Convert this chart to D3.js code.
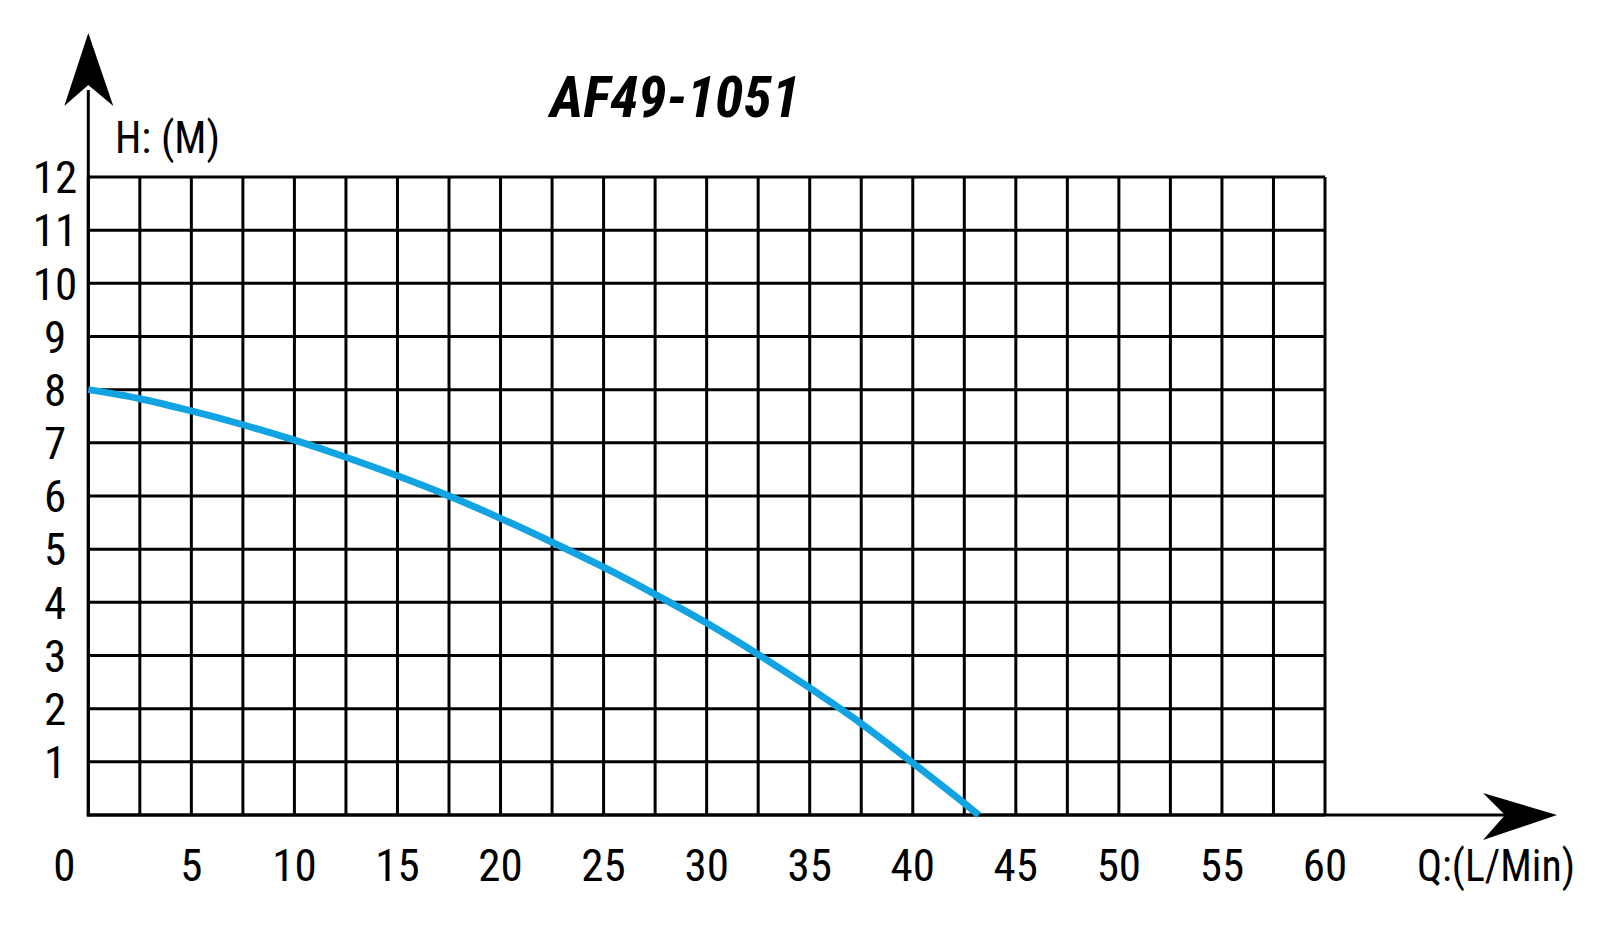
<!DOCTYPE html>
<html>
<head>
<meta charset="utf-8">
<script src="https://cdn.jsdelivr.net/npm/d3@7"></script>
<style>
  html, body { margin: 0; padding: 0; background: #fff; }
  svg { display: block; }
  text { font-family: "Liberation Sans Narrow", "Roboto Condensed", "Arial Narrow", "Liberation Sans", sans-serif; fill: #000; }
</style>
</head>
<body>
<svg id="chart" width="1600" height="929"></svg>
<script>
// ---- data ----
const title = "AF49-1051";
const yAxisLabel = "H: (M)";
const xAxisLabel = "Q:(L/Min)";
const flowQ = [0, 2.5, 5, 7.5, 10, 12.5, 15, 17.5, 20, 22.5, 25, 27.5, 30, 32.5, 35, 37.5, 40, 42.5, 43.2];
const headH = [8, 7.83, 7.60, 7.34, 7.05, 6.73, 6.38, 6.00, 5.58, 5.13, 4.66, 4.15, 3.61, 3.02, 2.39, 1.72, 0.98, 0.22, 0];
const xTicks = [0, 5, 10, 15, 20, 25, 30, 35, 40, 45, 50, 55, 60];
const yTicks = [1, 2, 3, 4, 5, 6, 7, 8, 9, 10, 11, 12];
const xGrid = d3.range(0, 60.01, 2.5);
const yGrid = d3.range(0, 12.01, 1);

// ---- layout ----
const svg = d3.select("#chart");
const x = d3.scaleLinear().domain([0, 60]).range([88.3, 1325]);
const y = d3.scaleLinear().domain([0, 12]).range([815, 177]);
const gridW = 3;

// grid
const g = svg.append("g");
g.selectAll("line.v").data(xGrid).join("line")
  .attr("x1", d => x(d)).attr("x2", d => x(d))
  .attr("y1", y(0)).attr("y2", y(12))
  .attr("stroke", "#000").attr("stroke-width", gridW);
g.selectAll("line.h").data(yGrid).join("line")
  .attr("x1", x(0)).attr("x2", x(60))
  .attr("y1", d => y(d)).attr("y2", d => y(d))
  .attr("stroke", "#000").attr("stroke-width", gridW);

// axes lines with arrows
svg.append("line").attr("x1", x(0)).attr("x2", x(0)).attr("y1", y(0) + 1.5).attr("y2", 90)
  .attr("stroke", "#000").attr("stroke-width", gridW);
svg.append("line").attr("x1", x(0) - 1.5).attr("x2", 1510).attr("y1", y(0)).attr("y2", y(0))
  .attr("stroke", "#000").attr("stroke-width", gridW);
const ax = x(0);
svg.append("path")
  .attr("d", `M${ax},33 L${ax + 25},106 L${ax},85 L${ax - 24},106 Z`)
  .attr("fill", "#000");
const ay = y(0);
svg.append("path")
  .attr("d", `M1557,${ay} L1483,${ay + 25} L1505,${ay} L1483,${ay - 22} Z`)
  .attr("fill", "#000");

// curve
const pts = flowQ.map((q, i) => [q, headH[i]]);
const line = d3.line().x(d => x(d[0])).y(d => y(d[1])).curve(d3.curveMonotoneX);
svg.append("path").datum(pts)
  .attr("d", line)
  .attr("fill", "none")
  .attr("stroke", "#12a4e2")
  .attr("stroke-width", 7);

// y tick labels
svg.selectAll("text.yt").data(yTicks).join("text")
  .attr("class", "yt")
  .attr("x", 55)
  .attr("y", d => y(d))
  .attr("dy", "0.36em")
  .attr("text-anchor", "middle")
  .attr("font-size", 45)
  .text(d => d);

// x tick labels
svg.selectAll("text.xt").data(xTicks).join("text")
  .attr("class", "xt")
  .attr("x", d => d === 0 ? x(d) - 24 : x(d))
  .attr("y", 881)
  .attr("text-anchor", "middle")
  .attr("font-size", 45)
  .text(d => d);

// axis titles
svg.append("text").attr("x", 115).attr("y", 152.7).attr("font-size", 45)
  .attr("textLength", 105).attr("lengthAdjust", "spacingAndGlyphs").text(yAxisLabel);
svg.append("text").attr("x", 1417).attr("y", 881).attr("font-size", 45)
  .attr("textLength", 158).attr("lengthAdjust", "spacingAndGlyphs").text(xAxisLabel);

// chart title
svg.append("text")
  .attr("x", 550).attr("y", 116.7)
  .attr("font-size", 58)
  .attr("font-weight", "bold")
  .attr("font-style", "italic")
  .attr("textLength", 250)
  .attr("lengthAdjust", "spacingAndGlyphs")
  .text(title);
</script>
</body>
</html>
